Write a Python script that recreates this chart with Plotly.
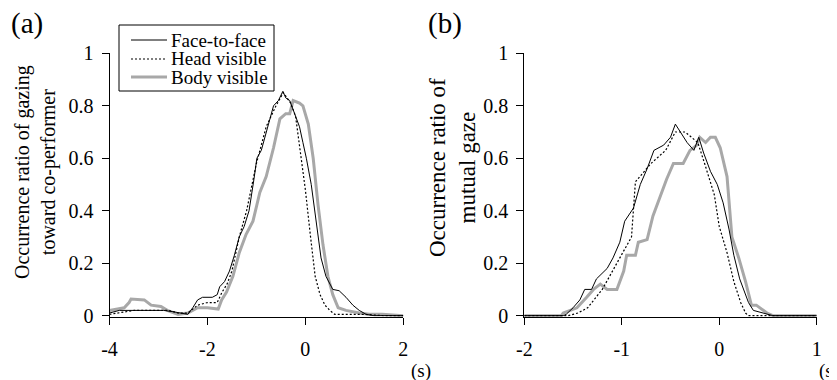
import plotly.graph_objects as go

# ---- Panel (a) data: gazing toward co-performer ----
a_face_x = [-4.0, -3.8, -3.5, -3.2, -2.9, -2.7, -2.5, -2.4, -2.3, -2.2, -2.1, -2.0, -1.9, -1.8, -1.75, -1.65,
            -1.55, -1.45, -1.35, -1.25, -1.15, -1.05, -0.99, -0.9, -0.78, -0.7, -0.65, -0.55, -0.46, -0.4,
            -0.32, -0.22, -0.12, -0.05, 0.02, 0.12, 0.22, 0.32, 0.42, 0.5, 0.56, 0.69, 0.83, 0.97, 1.1, 1.24, 1.4, 1.6, 2.0]
a_face_y = [0.01, 0.02, 0.02, 0.02, 0.02, 0.015, 0.01, 0.005, 0.03, 0.06, 0.07, 0.07, 0.07, 0.08, 0.11, 0.13,
            0.17, 0.23, 0.30, 0.34, 0.40, 0.52, 0.60, 0.63, 0.71, 0.76, 0.80, 0.82, 0.855, 0.83,
            0.82, 0.77, 0.72, 0.66, 0.60, 0.50, 0.35, 0.22, 0.15, 0.12, 0.10, 0.095, 0.07, 0.04, 0.02, 0.005, 0.0, 0.0, 0.0]

a_head_x = [-4.0, -3.8, -3.5, -3.2, -2.8, -2.6, -2.4, -2.2, -2.0, -1.8, -1.7, -1.6, -1.5, -1.35, -1.2, -1.0,
            -0.8, -0.7, -0.6, -0.45, -0.3, -0.2, -0.1, 0.0, 0.1, 0.2, 0.3, 0.4, 0.5, 0.6, 0.8, 1.2, 1.6, 2.0]
a_head_y = [0.005, 0.01, 0.02, 0.02, 0.02, 0.01, 0.01, 0.04, 0.05, 0.05, 0.09, 0.12, 0.17, 0.30, 0.40, 0.58,
            0.72, 0.76, 0.80, 0.85, 0.81, 0.76, 0.63, 0.48, 0.31, 0.15, 0.08, 0.04, 0.02, 0.005, 0.005, 0.005, 0.0, 0.0]

a_body_x = [-4.0, -3.7, -3.6, -3.56, -3.29, -3.15, -2.95, -2.82, -2.6, -2.4, -2.2, -2.0, -1.78, -1.71, -1.61,
            -1.48, -1.35, -1.21, -1.07, -0.93, -0.8, -0.65, -0.52, -0.4, -0.32, -0.25, -0.12, -0.05, 0.06,
            0.16, 0.26, 0.36, 0.46, 0.56, 0.67, 0.83, 1.1, 1.3, 1.57, 1.9, 2.0]
a_body_y = [0.02, 0.03, 0.05, 0.063, 0.06, 0.04, 0.035, 0.02, 0.005, 0.01, 0.03, 0.03, 0.025, 0.06, 0.09,
            0.15, 0.24, 0.31, 0.36, 0.47, 0.53, 0.64, 0.75, 0.77, 0.77, 0.82, 0.81, 0.80, 0.73,
            0.60, 0.42, 0.27, 0.15, 0.08, 0.03, 0.02, 0.01, 0.005, 0.005, 0.0, 0.0]

# ---- Panel (b) data: mutual gaze ----
b_face_x = [-2.0, -1.6, -1.57, -1.5, -1.43, -1.38, -1.31, -1.26, -1.15, -1.09, -1.02, -0.97, -0.88, -0.81,
            -0.74, -0.67, -0.57, -0.5, -0.45, -0.38, -0.33, -0.26, -0.21, -0.16, -0.09, -0.02, 0.04, 0.1,
            0.15, 0.21, 0.3, 0.35, 0.45, 0.52, 0.55, 1.0]
b_face_y = [0.0, 0.0, 0.005, 0.03, 0.06, 0.10, 0.10, 0.14, 0.18, 0.22, 0.28, 0.36, 0.41, 0.50,
            0.56, 0.63, 0.65, 0.68, 0.73, 0.69, 0.66, 0.63, 0.68, 0.62, 0.55, 0.50, 0.43, 0.33,
            0.23, 0.14, 0.05, 0.02, 0.01, 0.005, 0.0, 0.0]

b_head_x = [-2.0, -1.55, -1.45, -1.35, -1.2, -1.05, -0.9, -0.86, -0.7, -0.55, -0.45, -0.35, -0.22, -0.15,
            -0.05, 0.0, 0.08, 0.15, 0.22, 0.27, 0.3, 1.0]
b_head_y = [0.0, 0.0, 0.01, 0.03, 0.10, 0.20, 0.30, 0.51, 0.58, 0.63, 0.70, 0.70, 0.66, 0.58,
            0.46, 0.34, 0.24, 0.13, 0.05, 0.01, 0.0, 0.0]

b_body_x = [-2.0, -1.62, -1.6, -1.46, -1.36, -1.29, -1.22, -1.15, -1.05, -0.98, -0.95, -0.86, -0.83, -0.74,
            -0.68, -0.61, -0.54, -0.47, -0.37, -0.3, -0.23, -0.2, -0.14, -0.09, -0.04, 0.01, 0.08, 0.13,
            0.2, 0.27, 0.33, 0.38, 0.49, 0.55, 1.0]
b_body_y = [0.0, 0.0, 0.01, 0.03, 0.07, 0.10, 0.12, 0.10, 0.10, 0.17, 0.23, 0.23, 0.28, 0.29,
            0.38, 0.45, 0.52, 0.58, 0.58, 0.63, 0.65, 0.68, 0.66, 0.68, 0.68, 0.64, 0.53, 0.30,
            0.22, 0.13, 0.04, 0.04, 0.01, 0.0, 0.0]

series_names = ["Face-to-face", "Head visible", "Body visible"]
x_ticks_a = [-4, -2, 0, 2]
x_ticklabels_a = ["-4", "-2", "0", "2"]
x_ticks_b = [-2, -1, 0, 1]
x_ticklabels_b = ["-2", "-1", "0", "1"]
y_ticks = [0, 0.2, 0.4, 0.6, 0.8, 1]
y_ticklabels = ["0", "0.2", "0.4", "0.6", "0.8", "1"]

FONT = "Liberation Serif, Times New Roman, serif"
GRAY = "#a8a8a8"

styles = [dict(color="black", width=1),
          dict(color="black", width=1.2, dash="2px,2px"),
          dict(color=GRAY, width=3)]

fig = go.Figure()
panel_a = [(a_face_x, a_face_y), (a_head_x, a_head_y), (a_body_x, a_body_y)]
panel_b = [(b_face_x, b_face_y), (b_head_x, b_head_y), (b_body_x, b_body_y)]

order = [2, 0, 1]  # draw gray underneath
for i in order:
    x, y = panel_a[i]
    fig.add_trace(go.Scatter(x=x, y=y, mode="lines", line=styles[i], name=series_names[i],
                             showlegend=False, xaxis="x", yaxis="y"))
for i in order:
    x, y = panel_b[i]
    fig.add_trace(go.Scatter(x=x, y=y, mode="lines", line=styles[i], name=series_names[i],
                             showlegend=False, xaxis="x2", yaxis="y2"))

# page has an 8px body margin: figure is placed at (8, 8) in the window
OFF = 8
W, H = 837 - OFF, 380 - OFF
def px_x(p): return (p - OFF) / W
def px_y(p): return 1 - (p - OFF) / H

axis_common = dict(showgrid=False, zeroline=False, showline=True, linecolor="black", linewidth=1,
                   ticks="outside", ticklen=7, tickcolor="black", tickwidth=1, automargin=False,
                   tickfont=dict(family=FONT, size=20, color="black"))

fig.update_layout(
    width=W, height=H, margin=dict(l=0, r=0, t=0, b=0, autoexpand=False),
    paper_bgcolor="white", plot_bgcolor="white",
    font=dict(family=FONT, color="black"),
    xaxis=dict(domain=[px_x(109.5), px_x(403.3)], range=[-4, 2], tickvals=x_ticks_a,
               ticktext=x_ticklabels_a, anchor="y", ticklabelstandoff=7, **axis_common),
    yaxis=dict(domain=[px_y(316.7), px_y(53.3)], range=[-0.004, 1.0], tickvals=y_ticks,
               ticktext=y_ticklabels, anchor="x", ticklabelstandoff=4, **axis_common),
    xaxis2=dict(domain=[px_x(524.3), px_x(816.7)], range=[-2, 1], tickvals=x_ticks_b,
                ticktext=x_ticklabels_b, anchor="y2", ticklabelstandoff=7, **axis_common),
    yaxis2=dict(domain=[px_y(316.7), px_y(53.3)], range=[-0.004, 1.0], tickvals=y_ticks,
                ticktext=y_ticklabels, anchor="x2", ticklabelstandoff=4, **axis_common),
    showlegend=False,
)

# ---- manual legend (box, line samples, labels) ----
fig.add_shape(type="rect", xref="paper", yref="paper",
              x0=px_x(119), x1=px_x(274), y0=px_y(91), y1=px_y(25),
              line=dict(color="black", width=1), fillcolor="white", layer="above")
rows = [40, 59, 77]
for i in range(3):
    fig.add_shape(type="line", xref="paper", yref="paper",
                  x0=px_x(131), x1=px_x(167), y0=px_y(rows[i]), y1=px_y(rows[i]),
                  line=styles[i], layer="above")
    fig.add_annotation(xref="paper", yref="paper", showarrow=False, xanchor="left", yanchor="middle",
                       x=px_x(169), y=px_y(rows[i]), text=series_names[i],
                       font=dict(family=FONT, size=19, color="black"))

def text(t, x, y, size, angle=0):
    fig.add_annotation(xref="paper", yref="paper", showarrow=False, xanchor="center", yanchor="middle",
                       x=px_x(x), y=px_y(y), text=t, textangle=angle,
                       font=dict(family=FONT, size=size, color="black"))

text("(a)", 27, 24, 29)
text("(b)", 445, 24, 29)
text("Occurrence ratio of gazing<br>toward co-performer", 35, 172, 20, -90)
text("Occurrence ratio of<br>mutual gaze", 452, 168, 23, -90)
text("(s)", 421, 371, 19)
text("(s)", 829, 371, 19)

fig.write_html("out.html")
